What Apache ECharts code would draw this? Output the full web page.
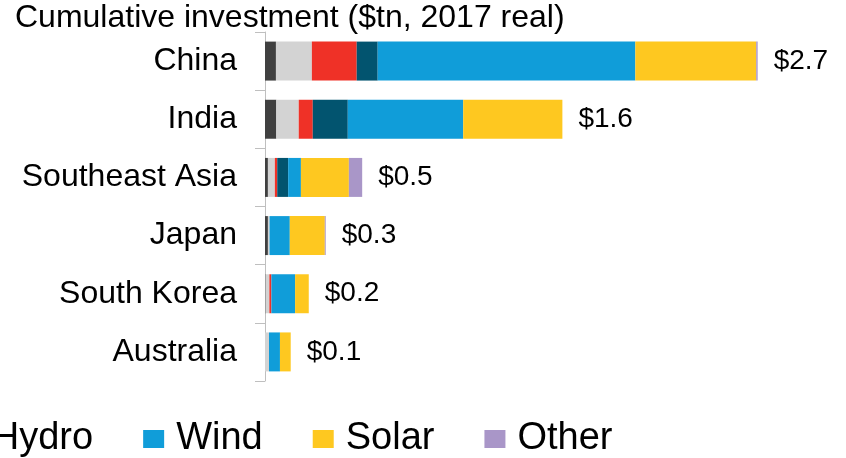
<!DOCTYPE html>
<html>
<head>
<meta charset="utf-8">
<script src="https://cdn.jsdelivr.net/npm/echarts@6/dist/echarts.min.js"></script>
<style>
  html, body { margin: 0; padding: 0; background: #fff; }
  #chart { width: 846px; height: 458px; }
</style>
</head>
<body>
<div id="chart"></div>
<script>
// categories, top to bottom
var regions = ['China', 'India', 'Southeast Asia', 'Japan', 'South Korea', 'Australia'];

// cumulative investment by technology, $tn (2017 real)
var coal    = [0.060, 0.062, 0.016, 0.016, 0.003, 0.000];
var gas     = [0.197, 0.123, 0.038, 0.009, 0.021, 0.022];
var nuclear = [0.246, 0.077, 0.013, 0.000, 0.011, 0.000];
var hydro   = [0.115, 0.192, 0.060, 0.000, 0.000, 0.000];
var wind    = [1.413, 0.633, 0.070, 0.111, 0.130, 0.060];
var solar   = [0.663, 0.544, 0.263, 0.192, 0.075, 0.059];
var other   = [0.008, 0.000, 0.073, 0.005, 0.000, 0.000];

// totals printed at the end of each bar
var totals = [2.7, 1.6, 0.5, 0.3, 0.2, 0.1];

var FONT = '"Liberation Sans", Arial, sans-serif';

var techs = [
  { name: 'Coal',    data: coal,    color: '#404040' },
  { name: 'Gas',     data: gas,     color: '#d3d3d3' },
  { name: 'Nuclear', data: nuclear, color: '#ef3127' },
  { name: 'Hydro',   data: hydro,   color: '#02546f' },
  { name: 'Wind',    data: wind,    color: '#109dd9' },
  { name: 'Solar',   data: solar,   color: '#fec820' },
  { name: 'Other',   data: other,   color: '#a996c8' }
];

var series = techs.map(function (t) {
  return {
    name: t.name,
    type: 'bar',
    stack: 'total',
    barCategoryGap: '33%',
    itemStyle: { color: t.color },
    emphasis: { disabled: true },
    data: t.data
  };
});

// zero-width bar on top of the stack, only carries the total label
series.push({
  name: 'Total',
  type: 'bar',
  stack: 'total',
  silent: true,
  itemStyle: { color: 'transparent' },
  label: {
    show: true,
    position: 'right',
    distance: 16,
    color: '#000',
    fontFamily: FONT,
    fontSize: 28,
    formatter: function (p) { return '$' + totals[p.dataIndex].toFixed(1); }
  },
  data: regions.map(function () { return 0; })
});

var chart = echarts.init(document.getElementById('chart'), null, { renderer: 'canvas' });
chart.setOption({
  animation: false,
  backgroundColor: '#fff',
  title: {
    text: 'Cumulative investment ($tn, 2017 real)',
    left: 15,
    top: 2,
    padding: 0,
    textStyle: { fontFamily: FONT, fontSize: 32, fontWeight: 'normal', color: '#000' }
  },
  legend: {
    data: techs.map(function (t) { return t.name; }),
    left: -569,
    top: 420,
    width: 1400,
    padding: 0,
    icon: 'rect',
    itemWidth: 21,
    itemHeight: 18,
    itemGap: 50,
    selectedMode: false,
    textStyle: { fontFamily: FONT, fontSize: 38, color: '#000', padding: [0, 0, 0, 7] }
  },
  grid: {
    left: 265,
    right: 34,
    top: 32,
    bottom: 77,
    containLabel: false,
    outerBoundsMode: 'none'
  },
  xAxis: {
    type: 'value',
    min: 0,
    max: 3,
    show: false
  },
  yAxis: {
    type: 'category',
    inverse: true,
    data: regions,
    axisLine: { show: true, lineStyle: { color: '#bfbfbf', width: 1 } },
    axisTick: { show: true, length: 10, lineStyle: { color: '#bfbfbf' } },
    axisLabel: { margin: 28, fontFamily: FONT, fontSize: 32, color: '#000' },
    splitLine: { show: false }
  },
  series: series
});
</script>
</body>
</html>
